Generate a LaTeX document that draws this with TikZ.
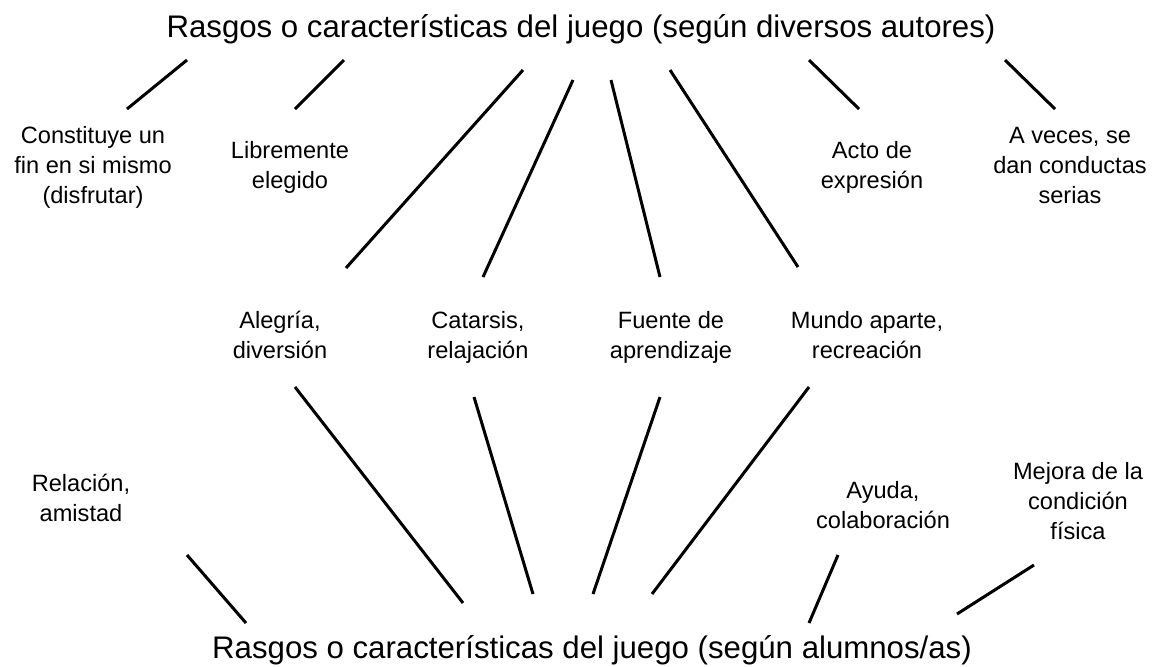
\documentclass[tikz,border=0pt]{standalone}
\usepackage{fontspec}
\setmainfont{Liberation Sans}

\begin{document}
\begin{tikzpicture}[x=0.5pt, y=-0.5pt,
    titulo/.style={inner sep=0, anchor=base, font=\fontsize{15.6}{18}\selectfont},
    rasgo/.style={inner sep=0, anchor=base, align=center, font=\fontsize{11.8}{15}\selectfont},
    trazo/.style={line width=1.5pt}]

    % Frame
    \useasboundingbox (0,0) rectangle (1156,666);

    % Titles
    \node[titulo] (autores) at (581,37) {Rasgos o características del juego (según diversos autores)};
    \node[titulo] (alumnos) at (592,658) {Rasgos o características del juego (según alumnos/as)};

    % Features (authors)
    \node[rasgo] (fin) at (93,203) {Constituye un\\fin en si mismo\\(disfrutar)};
    \node[rasgo] (libre) at (290,188) {Libremente\\elegido};
    \node[rasgo] (acto) at (872,188) {Acto de\\expresión};
    \node[rasgo] (serias) at (1070,203) {A veces, se\\dan conductas\\serias};

    % Features (both)
    \node[rasgo] (alegria) at (280,358) {Alegría,\\diversión};
    \node[rasgo] (catarsis) at (478,358) {Catarsis,\\relajación};
    \node[rasgo] (fuente) at (671,358) {Fuente de\\aprendizaje};
    \node[rasgo] (mundo) at (867,358) {Mundo aparte,\\recreación};

    % Features (pupils)
    \node[rasgo] (relacion) at (81,521) {Relación,\\amistad};
    \node[rasgo] (ayuda) at (883,528) {Ayuda,\\colaboración};
    \node[rasgo] (fisica) at (1078,539) {Mejora de la\\condición\\física};

    % Lines under the authors' title
    \foreach \n/\xa/\ya/\xb/\yb in {fin/187/60/127/109, libre/344/60/295/109,
        alegria/523/70/346/268, catarsis/573/80/483/277, fuente/611/80/660/277,
        mundo/670/70/798/267, acto/809/60/859/109, serias/1005/60/1055/109}{
        \coordinate (a-\n-1) at (\xa,\ya);
        \coordinate (a-\n-2) at (\xb,\yb);
        \draw[trazo] (a-\n-1) -- (a-\n-2);
    }

    % Lines over the pupils' title
    \foreach \n/\xa/\ya/\xb/\yb in {alegria/295/387/463/603, catarsis/474/397/533/594,
        fuente/660/397/593/594, mundo/809/387/652/594, relacion/187/555/246/623,
        ayuda/838/555/809/623, fisica/1034/565/957/614}{
        \coordinate (b-\n-1) at (\xa,\ya);
        \coordinate (b-\n-2) at (\xb,\yb);
        \draw[trazo] (b-\n-1) -- (b-\n-2);
    }

\end{tikzpicture}
\end{document}
